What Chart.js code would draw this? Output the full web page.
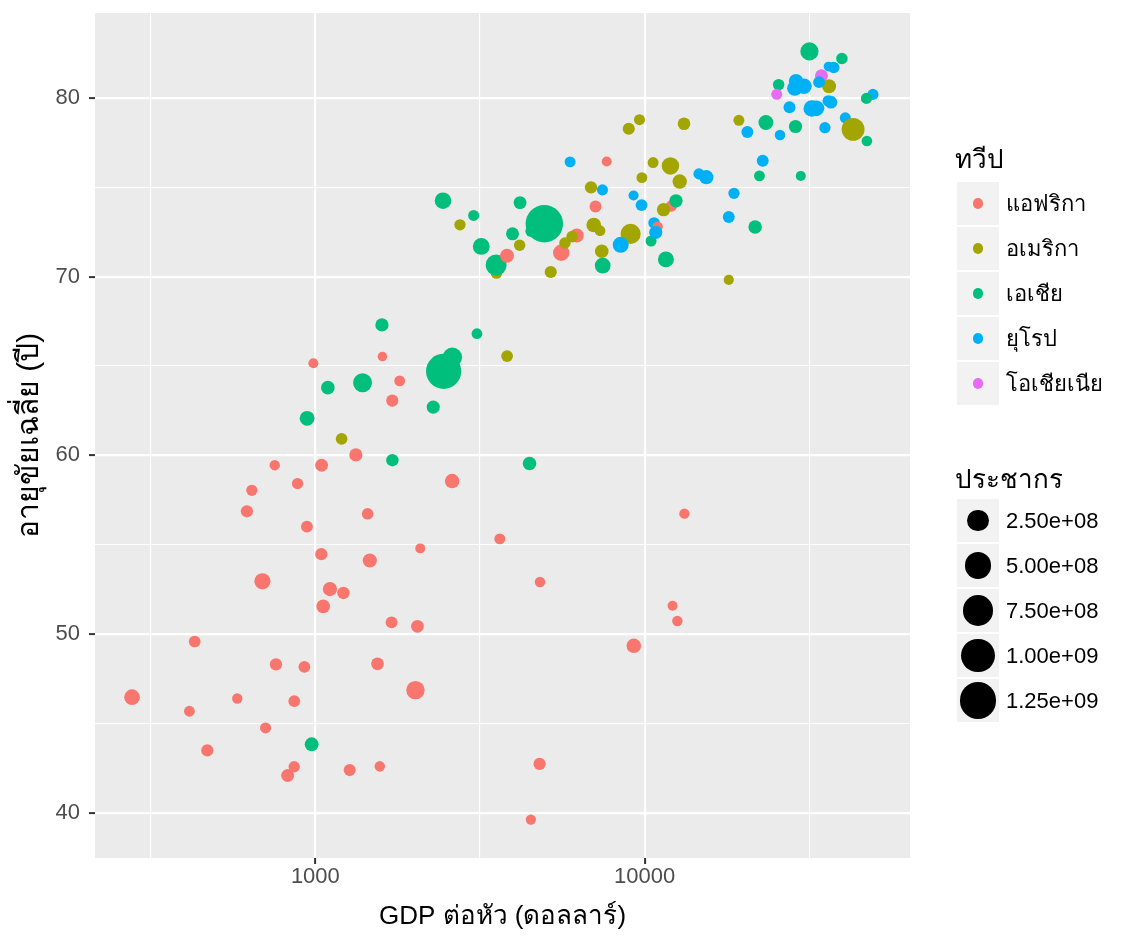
<!DOCTYPE html>
<html>
<head>
<meta charset="utf-8">
<script src="https://cdn.jsdelivr.net/npm/chart.js@4.4.1/dist/chart.umd.min.js"></script>
<style>
  body { margin: 0; background: #fff; }
  #wrap { position: relative; width: 1133px; height: 944px; }
  #wrap canvas { position: absolute; left: 0; top: 0; }
  .leg { position: absolute; font-family: "Liberation Sans", Arial, sans-serif; color: #000; white-space: nowrap; }
  .ltitle { font-size: 26px; line-height: 30px; }
  .key { position: absolute; width: 42px; height: 43px; background: #F2F2F2; }
  .dot { position: absolute; border-radius: 50%; }
  .lab { font-size: 22px; line-height: 43px; }
</style>
</head>
<body>
<div id="wrap">
  <canvas id="gapChart" width="1133" height="944"></canvas>
</div>
<script>
// gapminder 2007, rows in dataset order (alphabetical by country)
const continentNames = ['แอฟริกา', 'อเมริกา', 'เอเชีย', 'ยุโรป', 'โอเชียเนีย'];
const continentColors = ['#F8766D', '#A3A500', '#00BF7D', '#00B0F6', '#E76BF3'];

const countries = [
  'Afghanistan','Albania','Algeria','Angola','Argentina','Australia','Austria','Bahrain','Bangladesh','Belgium',
  'Benin','Bolivia','Bosnia and Herzegovina','Botswana','Brazil','Bulgaria','Burkina Faso','Burundi','Cambodia','Cameroon',
  'Canada','Central African Republic','Chad','Chile','China','Colombia','Comoros','Congo, Dem. Rep.','Congo, Rep.','Costa Rica',
  "Cote d'Ivoire",'Croatia','Cuba','Czech Republic','Denmark','Djibouti','Dominican Republic','Ecuador','Egypt','El Salvador',
  'Equatorial Guinea','Eritrea','Ethiopia','Finland','France','Gabon','Gambia','Germany','Ghana','Greece',
  'Guatemala','Guinea','Guinea-Bissau','Haiti','Honduras','Hong Kong, China','Hungary','Iceland','India','Indonesia',
  'Iran','Iraq','Ireland','Israel','Italy','Jamaica','Japan','Jordan','Kenya','Korea, Dem. Rep.',
  'Korea, Rep.','Kuwait','Lebanon','Lesotho','Liberia','Libya','Madagascar','Malawi','Malaysia','Mali',
  'Mauritania','Mauritius','Mexico','Mongolia','Montenegro','Morocco','Mozambique','Myanmar','Namibia','Nepal',
  'Netherlands','New Zealand','Nicaragua','Niger','Nigeria','Norway','Oman','Pakistan','Panama','Paraguay',
  'Peru','Philippines','Poland','Portugal','Puerto Rico','Reunion','Romania','Rwanda','Sao Tome and Principe','Saudi Arabia',
  'Senegal','Serbia','Sierra Leone','Singapore','Slovak Republic','Slovenia','Somalia','South Africa','Spain','Sri Lanka',
  'Sudan','Swaziland','Sweden','Switzerland','Syria','Taiwan','Tanzania','Thailand','Togo','Trinidad and Tobago',
  'Tunisia','Turkey','Uganda','United Kingdom','United States','Uruguay','Venezuela','Vietnam','West Bank and Gaza','Yemen, Rep.',
  'Zambia','Zimbabwe'
];

// 0 Africa, 1 Americas, 2 Asia, 3 Europe, 4 Oceania
const continent = [
  2,3,0,0,1,4,3,2,2,3,
  0,1,3,0,1,3,0,0,2,0,
  1,0,0,1,2,1,0,0,0,1,
  0,3,1,3,3,0,1,1,0,1,
  0,0,0,3,3,0,0,3,0,3,
  1,0,0,1,1,2,3,3,2,2,
  2,2,3,2,3,1,2,2,0,2,
  2,2,2,0,0,0,0,0,2,0,
  0,0,1,2,3,0,0,2,0,2,
  3,4,1,0,0,3,2,2,1,1,
  1,2,3,3,1,0,3,0,0,2,
  0,3,0,2,3,3,0,0,3,2,
  0,0,3,3,2,2,0,2,0,1,
  0,3,0,3,1,1,1,2,2,2,
  0,0
];

const gdpPercap = [
  974.5803,5937.030,6223.367,4797.231,12779.38,34435.37,36126.49,29796.05,1391.254,33692.61,
  1441.285,3822.137,7446.299,12569.85,9065.801,10680.79,1217.033,430.0707,1713.779,2042.095,
  36319.24,706.0165,1704.064,13171.64,4959.115,7006.580,986.1479,277.5519,3632.558,9645.061,
  1544.750,14619.22,8948.103,22833.31,35278.42,2082.482,6025.375,6873.262,5581.181,5728.354,
  12154.09,641.3695,690.8056,33207.08,30470.02,13206.48,752.7497,32170.37,1327.609,27538.41,
  5186.050,942.6542,579.2317,1201.637,3548.331,39724.98,18008.94,36180.79,2452.210,3540.652,
  11605.71,4471.062,40676.00,25523.28,28569.72,7320.880,31656.07,4519.461,1463.249,1593.065,
  23348.14,47306.99,10461.06,1569.331,414.5073,12057.50,1044.770,759.3499,12451.66,1042.582,
  1803.151,10956.99,11977.57,3095.772,9253.896,3820.175,823.6856,944.0000,4811.060,1091.360,
  36797.93,25185.01,2749.321,619.6769,2013.977,49357.19,22316.19,2605.948,9809.186,4172.838,
  7408.906,3190.481,15389.92,20509.65,19328.71,7670.123,10808.48,863.0885,1598.435,21654.83,
  1712.473,9786.535,862.5408,47143.18,18678.31,25768.26,926.1411,9269.658,28821.06,3970.095,
  2602.395,4513.481,33859.75,37506.42,4184.548,28718.28,1107.482,7458.396,882.9699,18008.51,
  7092.923,8458.276,1056.380,33203.26,42951.65,10611.46,11415.81,2441.577,3025.350,2280.770,
  1271.212,469.7093
];

const lifeExp = [
  43.828,76.423,72.301,42.731,75.320,81.235,79.829,75.635,64.062,79.441,
  56.728,65.554,74.852,50.728,72.390,73.005,52.295,49.580,59.723,50.430,
  80.653,44.741,50.651,78.553,72.961,72.889,65.152,46.462,55.322,78.782,
  48.328,75.748,78.273,76.486,78.332,54.791,72.235,74.994,71.338,71.878,
  51.579,58.040,52.947,79.313,80.657,56.735,59.448,79.406,60.022,79.483,
  70.259,56.007,46.388,60.916,70.198,82.208,73.338,81.757,64.698,70.650,
  70.964,59.545,78.885,80.745,80.546,72.567,82.603,72.535,54.110,67.297,
  78.623,77.588,71.993,42.592,45.678,73.952,59.443,48.303,74.241,54.467,
  64.164,72.801,76.195,66.803,74.543,71.164,42.082,62.069,52.906,63.785,
  79.762,80.204,72.899,56.867,46.859,80.196,75.640,65.483,75.537,71.752,
  71.421,71.688,75.563,78.098,78.746,76.442,72.476,46.242,65.528,72.777,
  63.062,74.002,42.568,79.972,74.663,77.926,48.159,49.339,80.941,72.396,
  58.556,39.613,80.884,81.701,74.143,78.400,52.517,70.616,58.420,69.819,
  73.923,71.777,51.542,79.425,78.242,76.384,73.747,74.249,73.422,62.698,
  42.384,43.487
];

const pop = [
  31889923,3600523,33333216,12420476,40301927,20434176,8199783,708573,150448339,10392226,
  8078314,9119152,4552198,1639131,190010647,7322858,14326203,8390505,14131858,17696293,
  33390141,4369038,10238807,16284741,1318683096,44227550,710960,64606759,3800610,4133884,
  18013409,4493312,11416987,10228744,5468120,496374,9319622,13755680,80264543,6939688,
  551201,4906585,76511887,5238460,61083916,1454867,1688359,82400996,22873338,10706290,
  12572928,9947814,1472041,8502814,7483763,6980412,9956108,301931,1110396331,223547000,
  69453570,27499638,4109086,6426679,58147733,2780132,127467972,6053193,35610177,23301725,
  49044790,2505559,3921278,2012649,3193942,6036914,19167654,13327079,24821286,12031795,
  3270065,1250882,108700891,2874127,684736,33757175,19951656,47761980,2055080,28901790,
  16570613,4115771,5675356,12894865,135031164,4627926,3204897,169270617,3242173,6667147,
  28674757,91077287,38518241,10642836,3942491,798094,22276056,8860588,199579,27601038,
  12267493,10150265,6144562,4553009,5447502,2009245,9118773,43997828,40448191,20378239,
  42292929,1133066,9031088,7554661,19314747,23174294,38139640,65068149,5701579,1056608,
  10276158,71158647,29170398,60776238,301139947,3447496,26084662,85262356,4018332,22211743,
  11746035,12311143
];

const sizeBreaks = [2.5e8, 5e8, 7.5e8, 1e9, 1.25e9];
const sizeLabels = ['2.50e+08', '5.00e+08', '7.50e+08', '1.00e+09', '1.25e+09'];

const xMajor = [1000, 10000];
const xMinor = [316.2278, 3162.278, 31622.78];
const yMajor = [40, 50, 60, 70, 80];
const yMinor = [45, 55, 65, 75];

// size scale like scale_size(): area proportional, range 1..6
const popMin = Math.min(...pop);
const popMax = Math.max(...pop);
function radiusOf(p) {
  const s = 1 + 5 * Math.sqrt((p - popMin) / (popMax - popMin));
  return (5.6 * s + 3.9) / 2;
}

// 5% expansion of the data range, x on log10
function expand(lo, hi) {
  const d = (hi - lo) * 0.05;
  return [lo - d, hi + d];
}
const lx = expand(Math.log10(Math.min(...gdpPercap)), Math.log10(Math.max(...gdpPercap)));
const ly = expand(Math.min(...lifeExp), Math.max(...lifeExp));

const points = countries.map((name, i) => ({
  x: gdpPercap[i],
  y: lifeExp[i],
  r: radiusOf(pop[i]),
  name: name
}));
const pointColors = continent.map(c => continentColors[c]);

const panelBg = {
  id: 'panelBg',
  beforeDraw(chart) {
    const { ctx, chartArea: a } = chart;
    ctx.save();
    ctx.fillStyle = '#EBEBEB';
    ctx.fillRect(a.left, a.top, a.right - a.left, a.bottom - a.top);
    ctx.restore();
  }
};

const font = '"Liberation Sans", Arial, sans-serif';

const ctx = document.getElementById('gapChart').getContext('2d');
const gapChart = new Chart(ctx, {
  type: 'bubble',
  data: {
    datasets: [{
      data: points,
      backgroundColor: pointColors,
      borderWidth: 0,
      hoverRadius: 0,
      clip: false
    }]
  },
  options: {
    responsive: false,
    animation: false,
    events: [],
    layout: { autoPadding: false, padding: { left: 0, top: 13, right: 223, bottom: 0 } },
    plugins: {
      legend: { display: false },
      tooltip: { enabled: false }
    },
    scales: {
      x: {
        type: 'logarithmic',
        min: Math.pow(10, lx[0]),
        max: Math.pow(10, lx[1]),
        afterBuildTicks: (scale) => {
          scale.ticks = xMinor.concat(xMajor).sort((a, b) => a - b).map(v => ({ value: v }));
        },
        afterFit: (scale) => {
          scale.height = 86;
          scale.paddingLeft = 0;
          scale.paddingRight = 0;
        },
        border: { display: false },
        grid: {
          color: '#FFFFFF',
          lineWidth: (c) => (c.tick && xMajor.includes(c.tick.value)) ? 2.2 : 1.1,
          tickColor: (c) => (c.tick && xMajor.includes(c.tick.value)) ? '#333333' : 'rgba(0,0,0,0)',
          tickWidth: 2,
          tickLength: 6
        },
        ticks: {
          autoSkip: false,
          maxRotation: 0,
          padding: 0,
          color: '#4D4D4D',
          font: { family: font, size: 22 },
          callback: (v) => xMajor.includes(v) ? String(v) : ''
        },
        title: {
          display: true,
          text: 'GDP ต่อหัว (ดอลลาร์)',
          color: '#000000',
          font: { family: font, size: 26 },
          padding: { top: 0, bottom: 12 }
        }
      },
      y: {
        type: 'linear',
        min: ly[0],
        max: ly[1],
        afterBuildTicks: (scale) => {
          scale.ticks = yMinor.concat(yMajor).sort((a, b) => a - b).map(v => ({ value: v }));
        },
        afterFit: (scale) => {
          scale.width = 95;
          scale.paddingTop = 0;
          scale.paddingBottom = 0;
        },
        border: { display: false },
        grid: {
          color: '#FFFFFF',
          lineWidth: (c) => (c.tick && yMajor.includes(c.tick.value)) ? 2.2 : 1.1,
          tickColor: (c) => (c.tick && yMajor.includes(c.tick.value)) ? '#333333' : 'rgba(0,0,0,0)',
          tickWidth: 2,
          tickLength: 6
        },
        ticks: {
          autoSkip: false,
          padding: 9,
          color: '#4D4D4D',
          font: { family: font, size: 22 },
          callback: (v) => yMajor.includes(v) ? String(v) : ''
        },
        title: {
          display: true,
          text: 'อายุขัยเฉลี่ย (ปี)',
          color: '#000000',
          font: { family: font, size: 30 },
          padding: { top: 12, bottom: 0 }
        }
      }
    }
  },
  plugins: [panelBg]
});

// legends (continent colour + population size), ggplot style
const wrap = document.getElementById('wrap');
function addEl(cls, css, text) {
  const el = document.createElement('div');
  el.className = cls;
  Object.assign(el.style, css);
  if (text !== undefined) el.textContent = text;
  wrap.appendChild(el);
  return el;
}
function addKey(top, d, colour) {
  const key = addEl('key', { left: '957px', top: top + 'px' });
  const dot = document.createElement('div');
  dot.className = 'dot';
  Object.assign(dot.style, {
    width: d + 'px', height: d + 'px',
    left: (21 - d / 2) + 'px', top: (21.5 - d / 2) + 'px',
    background: colour
  });
  key.appendChild(dot);
}

addEl('leg ltitle', { left: '955px', top: '144px' }, 'ทวีป');
continentNames.forEach((name, i) => {
  const top = 182 + i * 45;
  addKey(top, 10.6, continentColors[i]);
  addEl('leg lab', { left: '1006px', top: top + 'px' }, name);
});

addEl('leg ltitle', { left: '955px', top: '464px' }, 'ประชากร');
sizeBreaks.forEach((b, i) => {
  const top = 499 + i * 45;
  addKey(top, radiusOf(b) * 2, '#000000');
  addEl('leg lab', { left: '1006px', top: top + 'px' }, sizeLabels[i]);
});
</script>
</body>
</html>
